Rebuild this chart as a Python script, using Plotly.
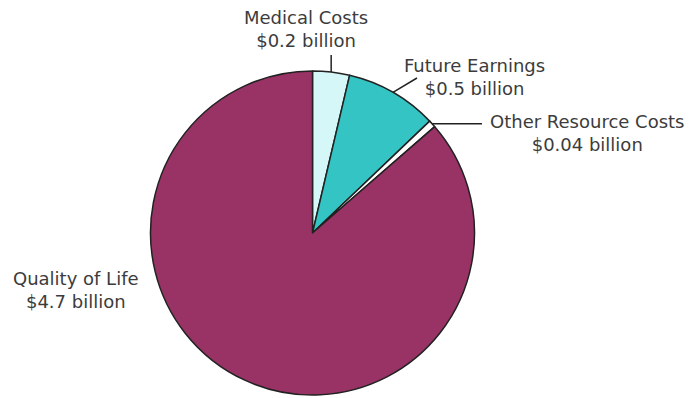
import math
import plotly.graph_objects as go

# ---- data ----
categories = ["Medical Costs", "Future Earnings", "Other Resource Costs", "Quality of Life"]
values = [0.2, 0.5, 0.04, 4.7]
value_labels = ["$0.2 billion", "$0.5 billion", "$0.04 billion", "$4.7 billion"]
colors = ["#d6f7f8", "#35c4c4", "#ffffff", "#993366"]

# ---- layout constants (pixels) ----
W, H = 693, 398
CX, CY, R = 312.5, 233.0, 162.0
FONT = dict(family="DejaVu Sans", size=18, color="#3c3c3c")

# label text centres (px) and leader-line outer end (px); None = no leader
label_pos = [(306, 29), (475, 77), (587, 133), (76, 290)]
leader_end = [(None, 55), (417, 78), (482, None), None]

fig = go.Figure(go.Pie(
    labels=categories, values=values, sort=False, direction="clockwise",
    rotation=0, marker=dict(colors=colors, line=dict(color="#222222", width=1.5)),
    textinfo="none", hoverinfo="label+value", showlegend=False,
    domain=dict(x=[(CX - R) / W, (CX + R) / W], y=[(H - (CY + R)) / H, (H - (CY - R)) / H]),
))

total = sum(values)
cum = 0.0
shapes, annotations = [], []
for i, (cat, v) in enumerate(zip(categories, values)):
    mid = (cum + v / 2) / total * 2 * math.pi
    cum += v
    ex, ey = CX + R * math.sin(mid), CY - R * math.cos(mid)
    lx, ly = label_pos[i]
    annotations.append(dict(
        x=lx / W, y=1 - ly / H, xref="paper", yref="paper", showarrow=False,
        text=f"{cat}<br>{value_labels[i]}", font=FONT, align="center",
        xanchor="center", yanchor="middle"))
    le = leader_end[i]
    if le is not None:
        ox = ex if le[0] is None else le[0]
        oy = ey if le[1] is None else le[1]
        shapes.append(dict(type="line", xref="paper", yref="paper",
                           x0=ex / W, y0=1 - ey / H, x1=ox / W, y1=1 - oy / H,
                           line=dict(color="#222222", width=1.5)))

fig.update_layout(
    width=W, height=H, margin=dict(l=0, r=0, t=0, b=0),
    paper_bgcolor="white", plot_bgcolor="white",
    shapes=shapes, annotations=annotations,
)
fig.write_html("out.html")
